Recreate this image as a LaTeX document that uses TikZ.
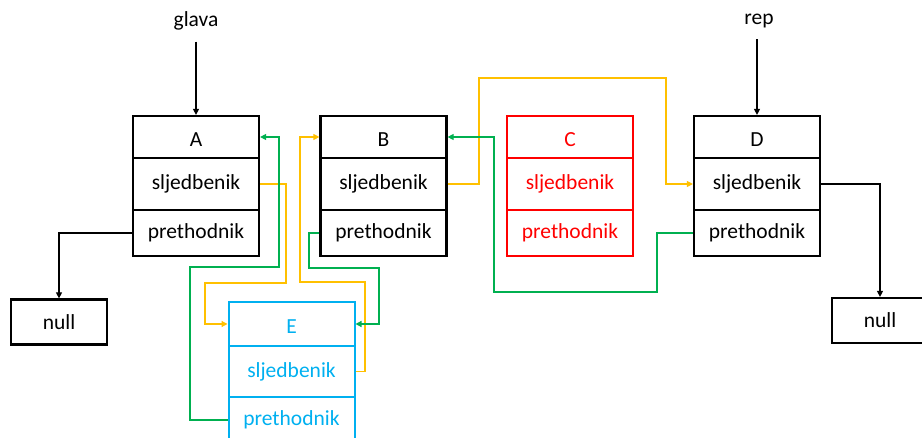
\documentclass[tikz,border=0pt]{standalone}
\usepackage{fontspec}
\setmainfont{Carlito}
\usetikzlibrary{arrows.meta,positioning}
\definecolor{nodeblue}{RGB}{0,176,240}
\definecolor{linkgreen}{RGB}{0,176,80}
\definecolor{linkyellow}{RGB}{255,192,0}
% key letter set a little below the cell's centre
\newcommand{\keyname}[1]{\raisebox{-3pt}[\height][0pt]{#1}}
\tikzset{
  cell/.style={draw, line width=2.2pt, minimum width=126pt, inner sep=0pt,
    font=\fontsize{21.5}{25}\selectfont},
  toprow/.style={cell, minimum height=42pt},
  midrow/.style={cell, minimum height=52pt},
  botrow/.style={cell, minimum height=46pt},
  nullbox/.style={draw, line width=2.2pt, minimum width=96pt, minimum height=45pt,
    inner sep=0pt, font=\fontsize{21.5}{25}\selectfont},
  label/.style={inner sep=0pt, font=\fontsize{21.5}{25}\selectfont},
  link/.style={line width=1.2pt, -{Triangle[length=6pt,width=6pt]}},
  blacklink/.style={link, draw=black},
  yellowlink/.style={link, draw=linkyellow, -{Triangle[length=6pt,width=6pt,fill=linkyellow]}},
  greenlink/.style={link, draw=linkgreen, -{Triangle[length=6pt,width=6pt,fill=linkgreen]}},
}
\begin{document}
\begin{tikzpicture}[x=1pt, y=-1pt]
\useasboundingbox (0,0) rectangle (922,438);
\clip (0,0) rectangle (922,438);

% list nodes A, B, C, D
\node[toprow] (At) at (196,137) {\keyname{A}};
\node[midrow] (As) at (196,184) {sljedbenik};
\node[botrow] (Ap) at (196,233) {prethodnik};

\node[toprow] (Bt) at (383.5,137) {\keyname{B}};
\node[midrow] (Bs) at (383.5,184) {sljedbenik};
\node[botrow] (Bp) at (383.5,233) {prethodnik};

\node[toprow, draw=red, text=red, line width=2pt] (Ct) at (570,137) {\keyname{C}};
\node[midrow, draw=red, text=red, line width=2pt] (Cs) at (570,184) {sljedbenik};
\node[botrow, draw=red, text=red, line width=2pt] (Cp) at (570,233) {prethodnik};

\node[toprow] (Dt) at (757,137) {\keyname{D}};
\node[midrow] (Ds) at (757,184) {sljedbenik};
\node[botrow] (Dp) at (757,233) {prethodnik};

% inserted node E
\node[toprow, minimum height=44pt, draw=nodeblue, text=nodeblue, line width=2pt] (Et) at (291.5,324) {\keyname{E}};
\node[midrow, minimum height=51pt, draw=nodeblue, text=nodeblue, line width=2pt] (Es) at (291.5,371.5) {sljedbenik};
\node[botrow, draw=nodeblue, text=nodeblue, line width=2pt] (Ep) at (291.5,420) {prethodnik};

% null terminators
\node[nullbox] (nullL) at (59,322) {null};
\node[nullbox] (nullR) at (880,320.5) {null};

% head and tail pointers
\node[label] (glava) at (196,21) {glava};
\node[label] (rep) at (759,21) {rep};
\draw[blacklink] ([yshift=-11pt]glava.south) -- (At.north);
\draw[blacklink] ([yshift=-11pt]rep.south -| Dt.north) -- (Dt.north);

% links to null
\draw[blacklink] (Ap.west) -| (nullL.north);
\draw[blacklink] (Ds.east) -| (nullR.north);

% successor links
\draw[yellowlink] (As.east) -| (286,283) -- (205,283) |- (Et.west);
\draw[yellowlink] (Es.east) -| (365,282) -- (300,282) |- (Bt.west);
\draw[yellowlink] (Bs.east) -| (479,78) -- (666,78) |- (Ds.west);

% predecessor links
\draw[greenlink] (Ep.west) -| (190,267) -- (279,267) |- (At.east);
\draw[greenlink] (Bp.west) -| (309,268) -- (379,268) |- (Et.east);
\draw[greenlink] (Dp.west) -| (657,292) -- (494,292) |- (Bt.east);
\end{tikzpicture}
\end{document}
